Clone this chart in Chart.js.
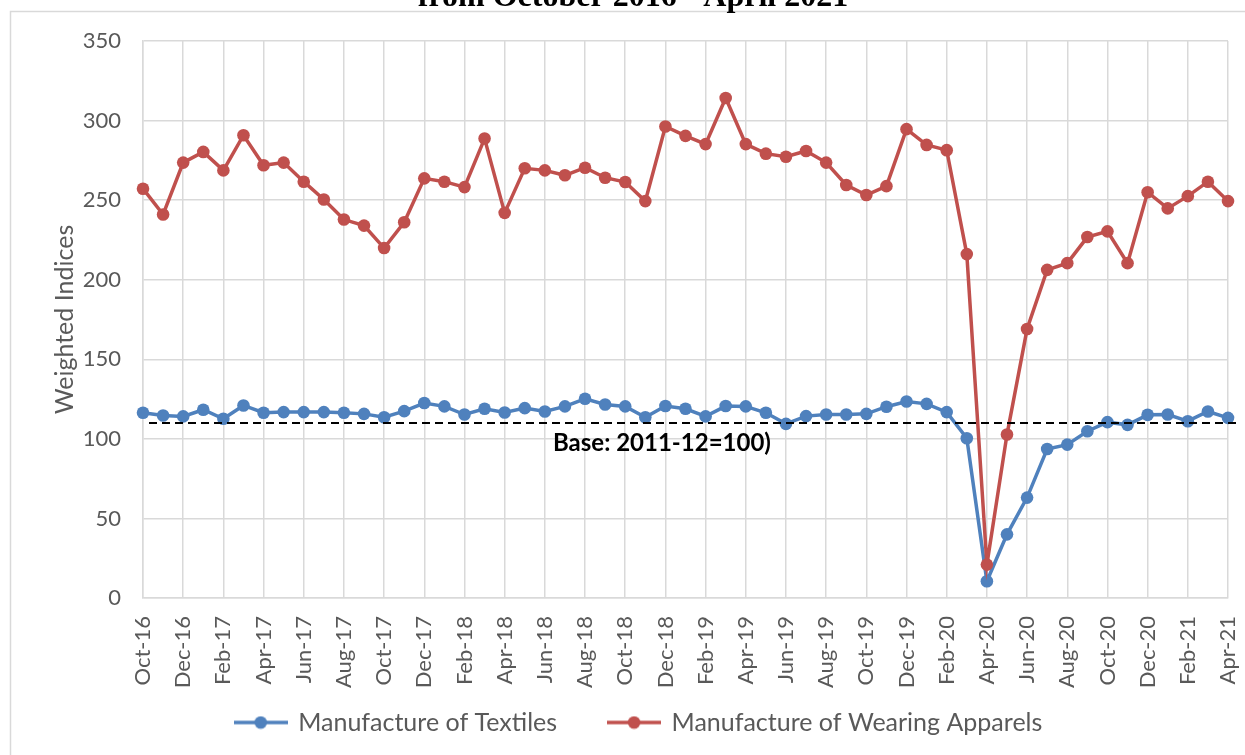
<!DOCTYPE html>
<html>
<head>
<meta charset="utf-8">
<script src="https://cdn.jsdelivr.net/npm/chart.js@4/dist/chart.umd.min.js"></script>
<style>
    html, body { margin: 0; padding: 0; background: #fff; }
    #wrap { width: 1245px; height: 755px; }
</style>
</head>
<body>
<div id="wrap"><canvas id="indexChart" width="1245" height="755"></canvas></div>
<script>
const months = ['Oct-16', 'Nov-16', 'Dec-16', 'Jan-17', 'Feb-17', 'Mar-17', 'Apr-17', 'May-17', 'Jun-17', 'Jul-17',
    'Aug-17', 'Sep-17', 'Oct-17', 'Nov-17', 'Dec-17', 'Jan-18', 'Feb-18', 'Mar-18', 'Apr-18', 'May-18',
    'Jun-18', 'Jul-18', 'Aug-18', 'Sep-18', 'Oct-18', 'Nov-18', 'Dec-18', 'Jan-19', 'Feb-19', 'Mar-19',
    'Apr-19', 'May-19', 'Jun-19', 'Jul-19', 'Aug-19', 'Sep-19', 'Oct-19', 'Nov-19', 'Dec-19', 'Jan-20',
    'Feb-20', 'Mar-20', 'Apr-20', 'May-20', 'Jun-20', 'Jul-20', 'Aug-20', 'Sep-20', 'Oct-20', 'Nov-20',
    'Dec-20', 'Jan-21', 'Feb-21', 'Mar-21', 'Apr-21'];

const textiles = [116.4, 114.7, 114.1, 118.3, 112.6, 121, 116.4, 116.8, 116.8, 116.8,
    116.4, 115.7, 113.6, 117.4, 122.5, 120.4, 115.3, 118.9, 116.6, 119.3,
    117.2, 120.4, 125.2, 121.6, 120.4, 113.6, 120.6, 118.9, 114.1, 120.6,
    120.4, 116.4, 109.4, 114.3, 115.3, 115.3, 115.7, 120.2, 123.5, 122,
    116.8, 100.4, 10.5, 40, 63.1, 93.6, 96.4, 104.8, 110.5, 108.8,
    115.1, 115.3, 111.1, 117.2, 113.2];

const apparels = [257.2, 241, 273.6, 280.3, 268.7, 290.8, 271.9, 273.6, 261.6, 250.4,
    237.8, 234, 219.9, 236.1, 263.7, 261.6, 258.2, 288.7, 242, 270,
    268.7, 265.6, 270.4, 264.1, 261.4, 249.4, 296.3, 290.4, 285.2, 314.2,
    285.2, 279.2, 277.3, 280.9, 273.6, 259.5, 253.2, 258.8, 294.6, 284.7,
    281.4, 216.1, 21, 102.7, 169, 206.2, 210.4, 226.8, 230.4, 210.4,
    255, 244.8, 252.5, 261.6, 249.4];

const yTicks = [0, 50, 100, 150, 200, 250, 300, 350];
const baseValue = 110;
const baseLabel = 'Base: 2011-12=100)';
const titleText = 'from October 2016 - April 2021';

const BLUE = '#4F81BD';
const RED = '#C0504D';
const GRID = '#d9d9d9';
const TEXT = '#595959';

// line + dot sample used in the legend
function legendMarker(color) {
    const c = document.createElement('canvas');
    c.width = 54;
    c.height = 14;
    const g = c.getContext('2d');
    g.strokeStyle = color;
    g.lineWidth = 3.5;
    g.beginPath();
    g.moveTo(0, 7);
    g.lineTo(54, 7);
    g.stroke();
    g.fillStyle = color;
    g.beginPath();
    g.arc(27, 7, 6.3, 0, Math.PI * 2);
    g.fill();
    return c;
}
const markers = [legendMarker(BLUE), legendMarker(RED)];

// white background, outer frame and the clipped title line
const framePlugin = {
    id: 'frame',
    beforeDraw(chart) {
        const ctx = chart.ctx;
        ctx.save();
        ctx.fillStyle = '#fff';
        ctx.fillRect(0, 0, chart.width, chart.height);
        ctx.strokeStyle = GRID;
        ctx.lineWidth = 1.5;
        ctx.strokeRect(10.5, 11.5, chart.width, chart.height);
        ctx.fillStyle = '#000';
        ctx.font = 'bold 32px "Liberation Serif"';
        ctx.textAlign = 'center';
        ctx.textBaseline = 'alphabetic';
        ctx.fillText(titleText, 633, 6);
        ctx.restore();
    }
};

// dashed base line and its label
const basePlugin = {
    id: 'baseLine',
    afterDatasetsDraw(chart) {
        const ctx = chart.ctx;
        const x = chart.scales.x;
        const y = chart.scales.y.getPixelForValue(baseValue);
        ctx.save();
        ctx.strokeStyle = '#000';
        ctx.lineWidth = 2;
        ctx.setLineDash([8, 5]);
        ctx.beginPath();
        ctx.moveTo(x.getPixelForValue(0) + 6, y);
        ctx.lineTo(chart.chartArea.right + 10, y);
        ctx.stroke();
        ctx.setLineDash([]);
        ctx.fillStyle = '#000';
        ctx.font = 'bold 24px Lato';
        ctx.textAlign = 'left';
        ctx.textBaseline = 'middle';
        ctx.fillText(baseLabel, chart.chartArea.left + 410, y + 20);
        ctx.restore();
    }
};

new Chart(document.getElementById('indexChart'), {
    type: 'line',
    data: {
        labels: months,
        datasets: [{
            label: 'Manufacture of Textiles',
            data: textiles,
            borderColor: BLUE,
            backgroundColor: BLUE,
            borderWidth: 3.5,
            pointRadius: 6.3,
            pointBorderWidth: 0,
            pointBackgroundColor: BLUE,
            tension: 0,
            clip: false,
            order: 1
        }, {
            label: 'Manufacture of Wearing Apparels',
            data: apparels,
            borderColor: RED,
            backgroundColor: RED,
            borderWidth: 3.5,
            pointRadius: 6.3,
            pointBorderWidth: 0,
            pointBackgroundColor: RED,
            tension: 0,
            clip: false,
            order: 0
        }]
    },
    options: {
        responsive: false,
        animation: false,
        devicePixelRatio: 1,
        layout: {
            padding: { top: 41, left: 50, right: 17, bottom: 10 }
        },
        plugins: {
            title: { display: false },
            tooltip: { enabled: false },
            legend: {
                position: 'bottom',
                labels: {
                    usePointStyle: true,
                    pointStyleWidth: 50,
                    padding: 52,
                    color: TEXT,
                    font: { family: 'Lato', size: 25 },
                    sort: (a, b) => a.datasetIndex - b.datasetIndex,
                    generateLabels(chart) {
                        const items = Chart.defaults.plugins.legend.labels.generateLabels(chart);
                        items.forEach(it => { it.pointStyle = markers[it.datasetIndex]; });
                        return items;
                    }
                }
            }
        },
        scales: {
            x: {
                offset: false,
                grid: {
                    drawTicks: false,
                    lineWidth: 1.5,
                    color: ctx => (ctx.index % 2 === 0 ? GRID : 'rgba(0,0,0,0)')
                },
                border: { color: GRID, width: 1.5 },
                ticks: {
                    autoSkip: false,
                    minRotation: 90,
                    maxRotation: 90,
                    padding: 18,
                    color: TEXT,
                    font: { family: 'Lato', size: 22 },
                    callback: (v, i) => (i % 2 === 0 ? months[i] : '')
                },
                afterFit: scale => {
                    scale.height = 60;
                    scale.paddingLeft = 0;
                    scale.paddingRight = 0;
                    // labels run into the legend band, so do not clip them to the axis box
                    scale._computeLabelArea = () => undefined;
                }
            },
            y: {
                min: yTicks[0],
                max: yTicks[yTicks.length - 1],
                afterBuildTicks: scale => { scale.ticks = yTicks.map(v => ({ value: v })); },
                grid: { drawTicks: false, color: GRID, lineWidth: 1.5 },
                border: { color: GRID, width: 1.5 },
                ticks: {
                    padding: 22,
                    color: TEXT,
                    font: { family: 'Lato', size: 22 }
                },
                title: {
                    display: true,
                    text: 'Weighted Indices',
                    color: TEXT,
                    padding: 0,
                    font: { family: 'Lato', size: 25 }
                },
                afterFit: scale => { scale.width = 93; }
            }
        }
    },
    plugins: [framePlugin, basePlugin]
});
</script>
</body>
</html>
